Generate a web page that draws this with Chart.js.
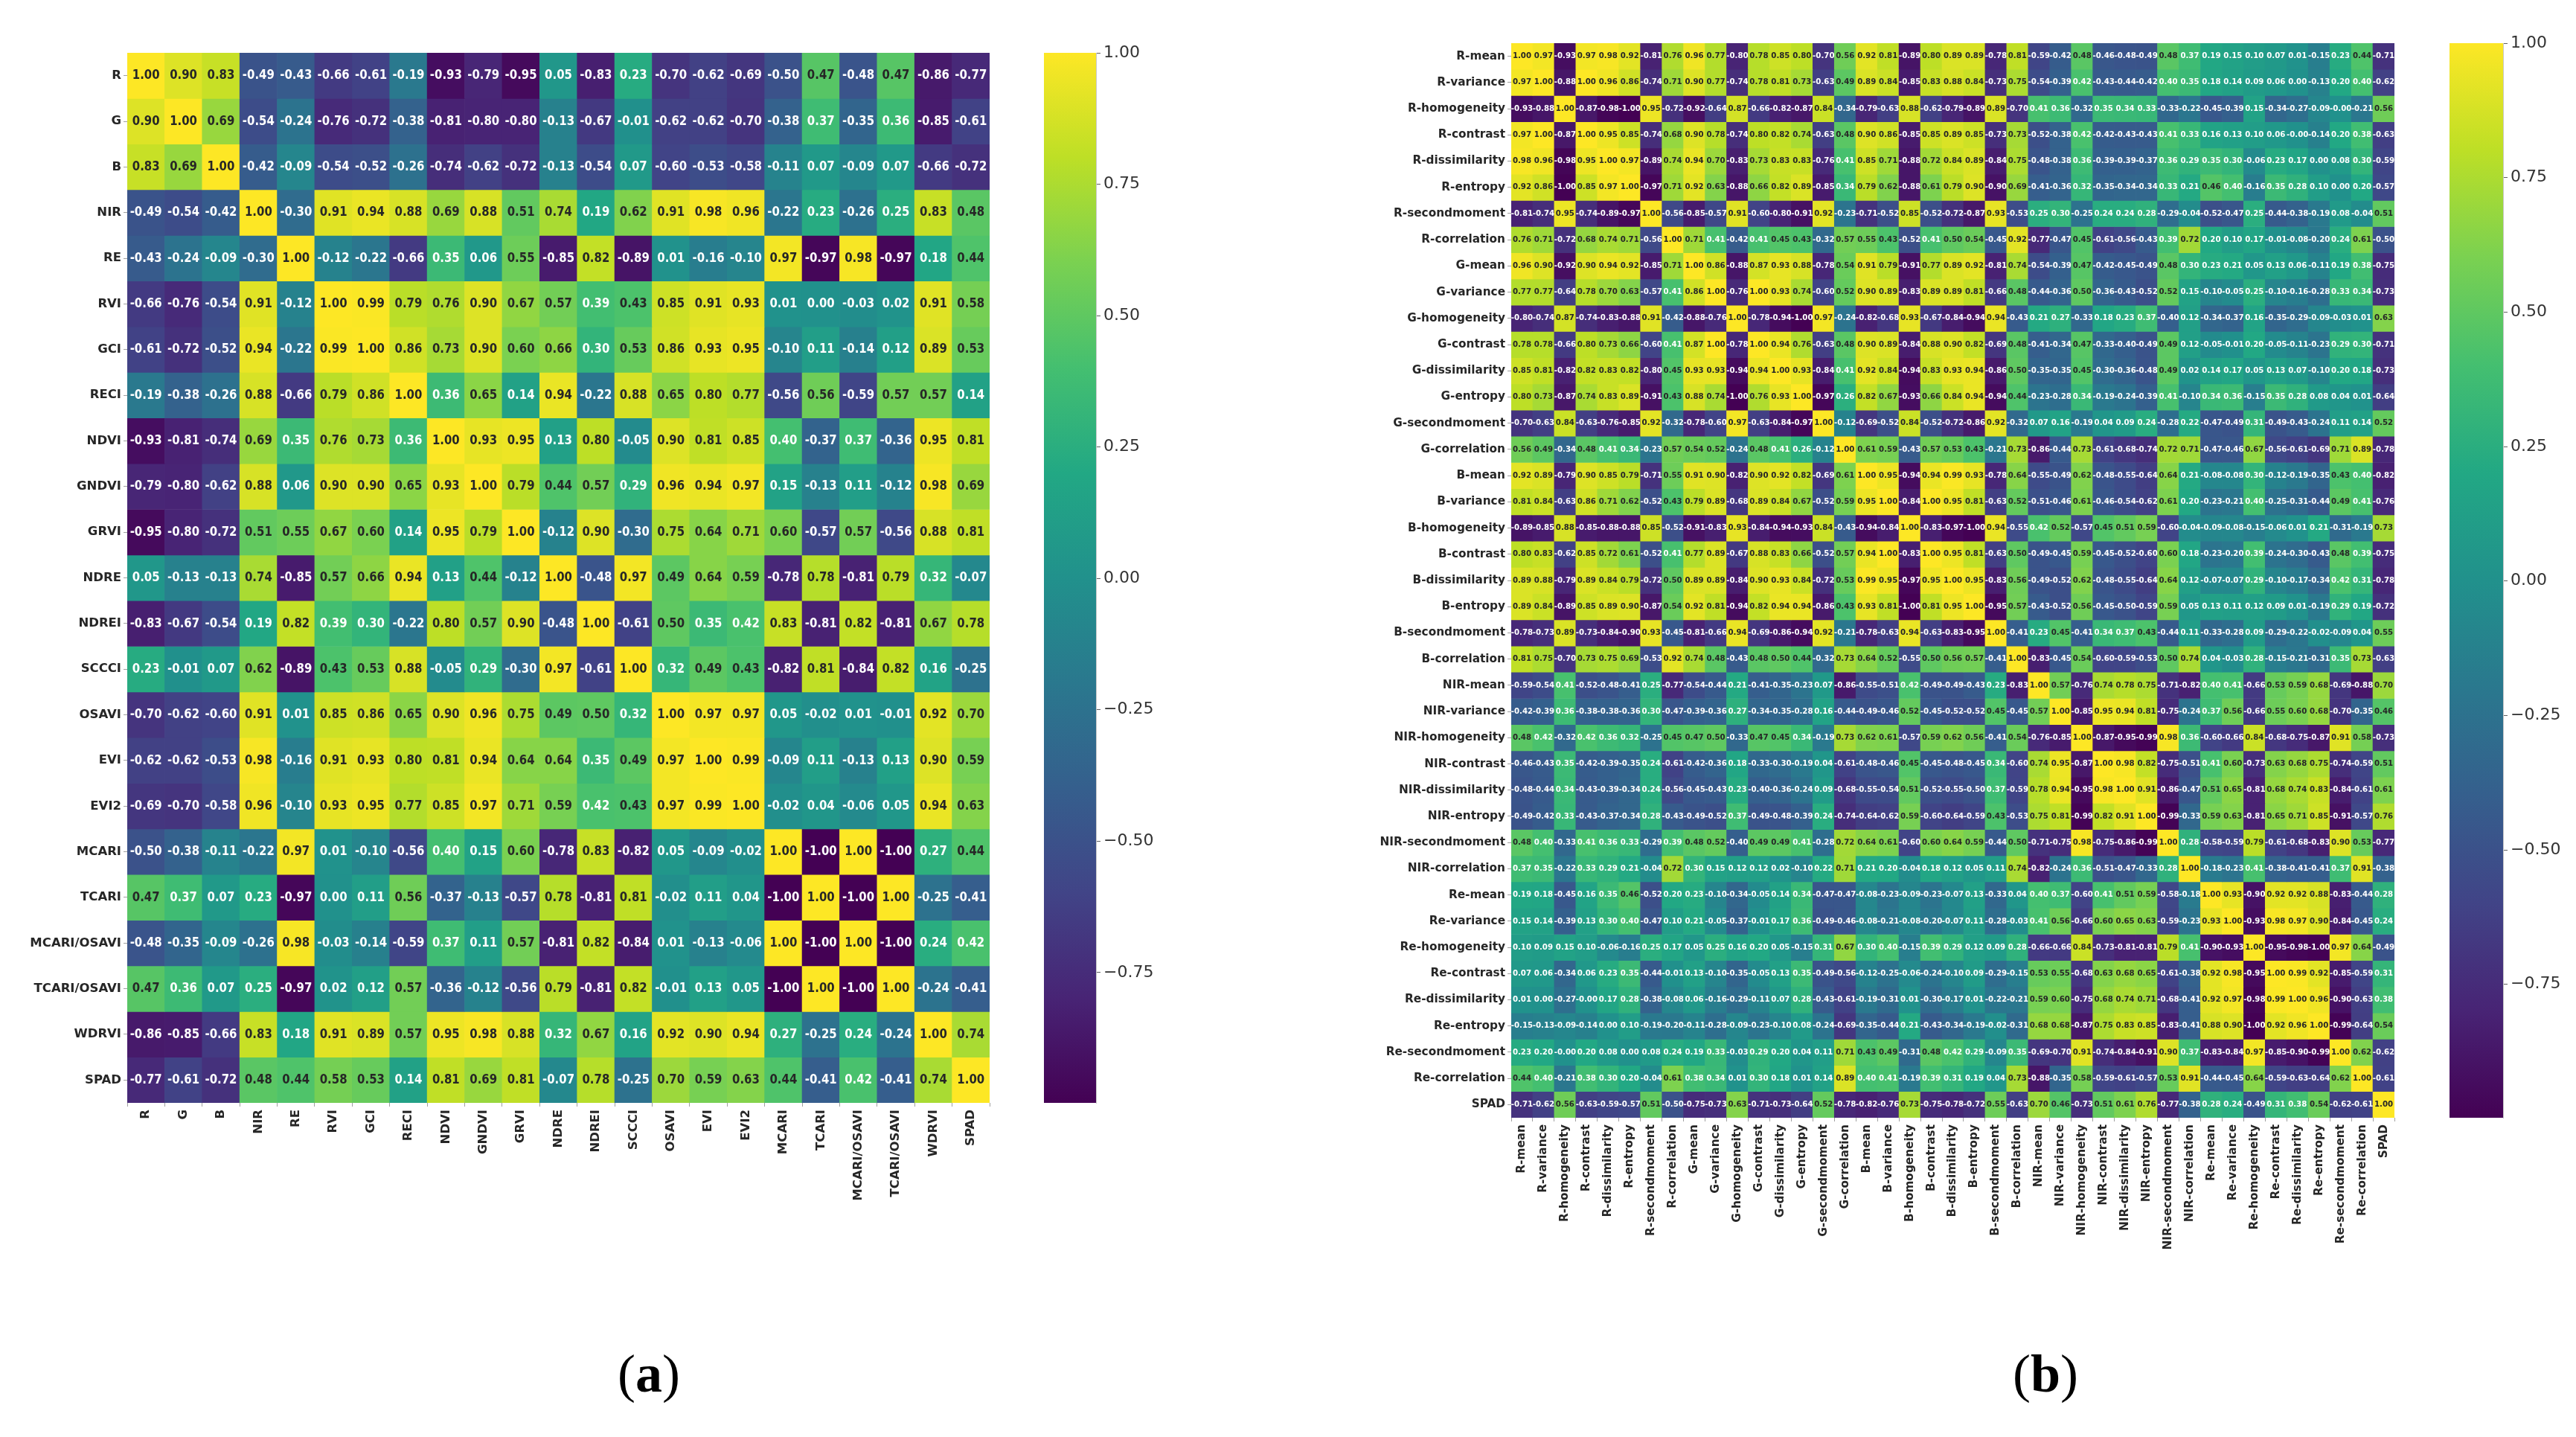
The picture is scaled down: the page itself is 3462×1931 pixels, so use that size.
<!DOCTYPE html>
<html>
<head>
<meta charset="utf-8">
<script src="https://cdn.jsdelivr.net/npm/chart.js@4"></script>
<style>
  html, body { margin: 0; padding: 0; background: #fff; width: 3462px; height: 1931px; overflow: hidden; }
  canvas { position: absolute; }
  .caption { position: absolute; top: 1805px; width: 200px; text-align: center; font: 72px "Liberation Serif", serif; color: #000; }
</style>
</head>
<body>
<canvas id="heatA"></canvas>
<canvas id="barA"></canvas>
<canvas id="heatB"></canvas>
<canvas id="barB"></canvas>
<div class="caption" style="left:772px">(<b>a</b>)</div>
<div class="caption" style="left:2649px">(<b>b</b>)</div>

<script>
const labelsA = ["R", "G", "B", "NIR", "RE", "RVI", "GCI", "RECI", "NDVI", "GNDVI", "GRVI", "NDRE", "NDREI", "SCCCI", "OSAVI", "EVI", "EVI2", "MCARI", "TCARI", "MCARI/OSAVI", "TCARI/OSAVI", "WDRVI", "SPAD"];

// the matrices are symmetric: each row starts at the diagonal
const corrA = [
  [1.00,0.90,0.83,-0.49,-0.43,-0.66,-0.61,-0.19,-0.93,-0.79,-0.95,0.05,-0.83,0.23,-0.70,-0.62,-0.69,-0.50,0.47,-0.48,0.47,-0.86,-0.77],
  [1.00,0.69,-0.54,-0.24,-0.76,-0.72,-0.38,-0.81,-0.80,-0.80,-0.13,-0.67,-0.01,-0.62,-0.62,-0.70,-0.38,0.37,-0.35,0.36,-0.85,-0.61],
  [1.00,-0.42,-0.09,-0.54,-0.52,-0.26,-0.74,-0.62,-0.72,-0.13,-0.54,0.07,-0.60,-0.53,-0.58,-0.11,0.07,-0.09,0.07,-0.66,-0.72],
  [1.00,-0.30,0.91,0.94,0.88,0.69,0.88,0.51,0.74,0.19,0.62,0.91,0.98,0.96,-0.22,0.23,-0.26,0.25,0.83,0.48],
  [1.00,-0.12,-0.22,-0.66,0.35,0.06,0.55,-0.85,0.82,-0.89,0.01,-0.16,-0.10,0.97,-0.97,0.98,-0.97,0.18,0.44],
  [1.00,0.99,0.79,0.76,0.90,0.67,0.57,0.39,0.43,0.85,0.91,0.93,0.01,0.00,-0.03,0.02,0.91,0.58],
  [1.00,0.86,0.73,0.90,0.60,0.66,0.30,0.53,0.86,0.93,0.95,-0.10,0.11,-0.14,0.12,0.89,0.53],
  [1.00,0.36,0.65,0.14,0.94,-0.22,0.88,0.65,0.80,0.77,-0.56,0.56,-0.59,0.57,0.57,0.14],
  [1.00,0.93,0.95,0.13,0.80,-0.05,0.90,0.81,0.85,0.40,-0.37,0.37,-0.36,0.95,0.81],
  [1.00,0.79,0.44,0.57,0.29,0.96,0.94,0.97,0.15,-0.13,0.11,-0.12,0.98,0.69],
  [1.00,-0.12,0.90,-0.30,0.75,0.64,0.71,0.60,-0.57,0.57,-0.56,0.88,0.81],
  [1.00,-0.48,0.97,0.49,0.64,0.59,-0.78,0.78,-0.81,0.79,0.32,-0.07],
  [1.00,-0.61,0.50,0.35,0.42,0.83,-0.81,0.82,-0.81,0.67,0.78],
  [1.00,0.32,0.49,0.43,-0.82,0.81,-0.84,0.82,0.16,-0.25],
  [1.00,0.97,0.97,0.05,-0.02,0.01,-0.01,0.92,0.70],
  [1.00,0.99,-0.09,0.11,-0.13,0.13,0.90,0.59],
  [1.00,-0.02,0.04,-0.06,0.05,0.94,0.63],
  [1.00,-1.00,1.00,-1.00,0.27,0.44],
  [1.00,-1.00,1.00,-0.25,-0.41],
  [1.00,-1.00,0.24,0.42],
  [1.00,-0.24,-0.41],
  [1.00,0.74],
  [1.00]
];

const labelsB = [
  "R-mean", "R-variance", "R-homogeneity", "R-contrast", "R-dissimilarity", "R-entropy", "R-secondmoment", "R-correlation",
  "G-mean", "G-variance", "G-homogeneity", "G-contrast", "G-dissimilarity", "G-entropy", "G-secondmoment", "G-correlation",
  "B-mean", "B-variance", "B-homogeneity", "B-contrast", "B-dissimilarity", "B-entropy", "B-secondmoment", "B-correlation",
  "NIR-mean", "NIR-variance", "NIR-homogeneity", "NIR-contrast", "NIR-dissimilarity", "NIR-entropy", "NIR-secondmoment", "NIR-correlation",
  "Re-mean", "Re-variance", "Re-homogeneity", "Re-contrast", "Re-dissimilarity", "Re-entropy", "Re-secondmoment", "Re-correlation",
  "SPAD"
];

// -0.001 prints as -0.00 like in the picture
const corrB = [
  [1.00,0.97,-0.93,0.97,0.98,0.92,-0.81,0.76,0.96,0.77,-0.80,0.78,0.85,0.80,-0.70,0.56,0.92,0.81,-0.89,0.80,0.89,0.89,-0.78,0.81,-0.59,-0.42,0.48,-0.46,-0.48,-0.49,0.48,0.37,0.19,0.15,0.10,0.07,0.01,-0.15,0.23,0.44,-0.71],
  [1.00,-0.88,1.00,0.96,0.86,-0.74,0.71,0.90,0.77,-0.74,0.78,0.81,0.73,-0.63,0.49,0.89,0.84,-0.85,0.83,0.88,0.84,-0.73,0.75,-0.54,-0.39,0.42,-0.43,-0.44,-0.42,0.40,0.35,0.18,0.14,0.09,0.06,0.00,-0.13,0.20,0.40,-0.62],
  [1.00,-0.87,-0.98,-1.00,0.95,-0.72,-0.92,-0.64,0.87,-0.66,-0.82,-0.87,0.84,-0.34,-0.79,-0.63,0.88,-0.62,-0.79,-0.89,0.89,-0.70,0.41,0.36,-0.32,0.35,0.34,0.33,-0.33,-0.22,-0.45,-0.39,0.15,-0.34,-0.27,-0.09,-0.001,-0.21,0.56],
  [1.00,0.95,0.85,-0.74,0.68,0.90,0.78,-0.74,0.80,0.82,0.74,-0.63,0.48,0.90,0.86,-0.85,0.85,0.89,0.85,-0.73,0.73,-0.52,-0.38,0.42,-0.42,-0.43,-0.43,0.41,0.33,0.16,0.13,0.10,0.06,-0.001,-0.14,0.20,0.38,-0.63],
  [1.00,0.97,-0.89,0.74,0.94,0.70,-0.83,0.73,0.83,0.83,-0.76,0.41,0.85,0.71,-0.88,0.72,0.84,0.89,-0.84,0.75,-0.48,-0.38,0.36,-0.39,-0.39,-0.37,0.36,0.29,0.35,0.30,-0.06,0.23,0.17,0.00,0.08,0.30,-0.59],
  [1.00,-0.97,0.71,0.92,0.63,-0.88,0.66,0.82,0.89,-0.85,0.34,0.79,0.62,-0.88,0.61,0.79,0.90,-0.90,0.69,-0.41,-0.36,0.32,-0.35,-0.34,-0.34,0.33,0.21,0.46,0.40,-0.16,0.35,0.28,0.10,0.00,0.20,-0.57],
  [1.00,-0.56,-0.85,-0.57,0.91,-0.60,-0.80,-0.91,0.92,-0.23,-0.71,-0.52,0.85,-0.52,-0.72,-0.87,0.93,-0.53,0.25,0.30,-0.25,0.24,0.24,0.28,-0.29,-0.04,-0.52,-0.47,0.25,-0.44,-0.38,-0.19,0.08,-0.04,0.51],
  [1.00,0.71,0.41,-0.42,0.41,0.45,0.43,-0.32,0.57,0.55,0.43,-0.52,0.41,0.50,0.54,-0.45,0.92,-0.77,-0.47,0.45,-0.61,-0.56,-0.43,0.39,0.72,0.20,0.10,0.17,-0.01,-0.08,-0.20,0.24,0.61,-0.50],
  [1.00,0.86,-0.88,0.87,0.93,0.88,-0.78,0.54,0.91,0.79,-0.91,0.77,0.89,0.92,-0.81,0.74,-0.54,-0.39,0.47,-0.42,-0.45,-0.49,0.48,0.30,0.23,0.21,0.05,0.13,0.06,-0.11,0.19,0.38,-0.75],
  [1.00,-0.76,1.00,0.93,0.74,-0.60,0.52,0.90,0.89,-0.83,0.89,0.89,0.81,-0.66,0.48,-0.44,-0.36,0.50,-0.36,-0.43,-0.52,0.52,0.15,-0.10,-0.05,0.25,-0.10,-0.16,-0.28,0.33,0.34,-0.73],
  [1.00,-0.78,-0.94,-1.00,0.97,-0.24,-0.82,-0.68,0.93,-0.67,-0.84,-0.94,0.94,-0.43,0.21,0.27,-0.33,0.18,0.23,0.37,-0.40,0.12,-0.34,-0.37,0.16,-0.35,-0.29,-0.09,-0.03,0.01,0.63],
  [1.00,0.94,0.76,-0.63,0.48,0.90,0.89,-0.84,0.88,0.90,0.82,-0.69,0.48,-0.41,-0.34,0.47,-0.33,-0.40,-0.49,0.49,0.12,-0.05,-0.01,0.20,-0.05,-0.11,-0.23,0.29,0.30,-0.71],
  [1.00,0.93,-0.84,0.41,0.92,0.84,-0.94,0.83,0.93,0.94,-0.86,0.50,-0.35,-0.35,0.45,-0.30,-0.36,-0.48,0.49,0.02,0.14,0.17,0.05,0.13,0.07,-0.10,0.20,0.18,-0.73],
  [1.00,-0.97,0.26,0.82,0.67,-0.93,0.66,0.84,0.94,-0.94,0.44,-0.23,-0.28,0.34,-0.19,-0.24,-0.39,0.41,-0.10,0.34,0.36,-0.15,0.35,0.28,0.08,0.04,0.01,-0.64],
  [1.00,-0.12,-0.69,-0.52,0.84,-0.52,-0.72,-0.86,0.92,-0.32,0.07,0.16,-0.19,0.04,0.09,0.24,-0.28,0.22,-0.47,-0.49,0.31,-0.49,-0.43,-0.24,0.11,0.14,0.52],
  [1.00,0.61,0.59,-0.43,0.57,0.53,0.43,-0.21,0.73,-0.86,-0.44,0.73,-0.61,-0.68,-0.74,0.72,0.71,-0.47,-0.46,0.67,-0.56,-0.61,-0.69,0.71,0.89,-0.78],
  [1.00,0.95,-0.94,0.94,0.99,0.93,-0.78,0.64,-0.55,-0.49,0.62,-0.48,-0.55,-0.64,0.64,0.21,-0.08,-0.08,0.30,-0.12,-0.19,-0.35,0.43,0.40,-0.82],
  [1.00,-0.84,1.00,0.95,0.81,-0.63,0.52,-0.51,-0.46,0.61,-0.46,-0.54,-0.62,0.61,0.20,-0.23,-0.21,0.40,-0.25,-0.31,-0.44,0.49,0.41,-0.76],
  [1.00,-0.83,-0.97,-1.00,0.94,-0.55,0.42,0.52,-0.57,0.45,0.51,0.59,-0.60,-0.04,-0.09,-0.08,-0.15,-0.06,0.01,0.21,-0.31,-0.19,0.73],
  [1.00,0.95,0.81,-0.63,0.50,-0.49,-0.45,0.59,-0.45,-0.52,-0.60,0.60,0.18,-0.23,-0.20,0.39,-0.24,-0.30,-0.43,0.48,0.39,-0.75],
  [1.00,0.95,-0.83,0.56,-0.49,-0.52,0.62,-0.48,-0.55,-0.64,0.64,0.12,-0.07,-0.07,0.29,-0.10,-0.17,-0.34,0.42,0.31,-0.78],
  [1.00,-0.95,0.57,-0.43,-0.52,0.56,-0.45,-0.50,-0.59,0.59,0.05,0.13,0.11,0.12,0.09,0.01,-0.19,0.29,0.19,-0.72],
  [1.00,-0.41,0.23,0.45,-0.41,0.34,0.37,0.43,-0.44,0.11,-0.33,-0.28,0.09,-0.29,-0.22,-0.02,-0.09,0.04,0.55],
  [1.00,-0.83,-0.45,0.54,-0.60,-0.59,-0.53,0.50,0.74,0.04,-0.03,0.28,-0.15,-0.21,-0.31,0.35,0.73,-0.63],
  [1.00,0.57,-0.76,0.74,0.78,0.75,-0.71,-0.82,0.40,0.41,-0.66,0.53,0.59,0.68,-0.69,-0.88,0.70],
  [1.00,-0.85,0.95,0.94,0.81,-0.75,-0.24,0.37,0.56,-0.66,0.55,0.60,0.68,-0.70,-0.35,0.46],
  [1.00,-0.87,-0.95,-0.99,0.98,0.36,-0.60,-0.66,0.84,-0.68,-0.75,-0.87,0.91,0.58,-0.73],
  [1.00,0.98,0.82,-0.75,-0.51,0.41,0.60,-0.73,0.63,0.68,0.75,-0.74,-0.59,0.51],
  [1.00,0.91,-0.86,-0.47,0.51,0.65,-0.81,0.68,0.74,0.83,-0.84,-0.61,0.61],
  [1.00,-0.99,-0.33,0.59,0.63,-0.81,0.65,0.71,0.85,-0.91,-0.57,0.76],
  [1.00,0.28,-0.58,-0.59,0.79,-0.61,-0.68,-0.83,0.90,0.53,-0.77],
  [1.00,-0.18,-0.23,0.41,-0.38,-0.41,-0.41,0.37,0.91,-0.38],
  [1.00,0.93,-0.90,0.92,0.92,0.88,-0.83,-0.44,0.28],
  [1.00,-0.93,0.98,0.97,0.90,-0.84,-0.45,0.24],
  [1.00,-0.95,-0.98,-1.00,0.97,0.64,-0.49],
  [1.00,0.99,0.92,-0.85,-0.59,0.31],
  [1.00,0.96,-0.90,-0.63,0.38],
  [1.00,-0.99,-0.64,0.54],
  [1.00,0.62,-0.62],
  [1.00,-0.61],
  [1.00]
];

const colorbarTicks = [1, 0.75, 0.5, 0.25, 0, -0.25, -0.5, -0.75];
const colorbarRange = [-0.998, 1];

const viridis = ["#440154", "#482475", "#414487", "#355f8d", "#2a788e", "#21918c", "#22a884", "#44bf70", "#7ad151", "#bddf26", "#fde725"];

function couleur(v) {
    const t = Math.max(0, Math.min(0.99999, (v + 1) / 2)) * (viridis.length - 1);
    const i = Math.floor(t);
    const a = parseInt(viridis[i].slice(1), 16);
    const b = parseInt(viridis[i + 1].slice(1), 16);
    const f = t - i;
    const mix = (s) => Math.round(((a >> s) & 255) * (1 - f) + ((b >> s) & 255) * f);
    return `rgb(${mix(16)},${mix(8)},${mix(0)})`;
}

// full matrix from the rows that start at the diagonal
function matrice(rows) {
    const n = rows.length;
    const m = [];
    for (let i = 0; i < n; i++) m.push(new Array(n));
    for (let i = 0; i < n; i++) {
        for (let k = 0; k < rows[i].length; k++) {
            m[i][i + k] = rows[i][k];
            m[i + k][i] = rows[i][k];
        }
    }
    return m;
}

// numbers written in the middle of each cell
const cellText = {
    id: "cellText",
    afterDatasetsDraw(chart, args, opts) {
        const { ctx, scales } = chart;
        ctx.save();
        ctx.font = `bold ${opts.size}px "DejaVu Sans"`;
        ctx.textAlign = "center";
        ctx.textBaseline = "middle";
        opts.values.forEach((row, i) => {
            row.forEach((v, j) => {
                ctx.fillStyle = v > 0.425 ? "#262626" : "#ffffff";
                ctx.save();
                ctx.translate(scales.x.getPixelForValue(j), scales.y.getPixelForValue(i + 0.5));
                ctx.scale(opts.squeeze, 1);
                ctx.fillText(v.toFixed(2), 0, 0);
                ctx.restore();
            });
        });
        ctx.restore();
    }
};

function heatmap(id, labels, rows, box) {
    const values = matrice(rows);
    const n = labels.length;
    const canvas = document.getElementById(id);
    canvas.width = box.labelW + box.width + 2;
    canvas.height = 2 + box.height + box.labelH;
    canvas.style.left = (box.left - box.labelW) + "px";
    canvas.style.top = (box.top - 2) + "px";

    const datasets = values.map((row, i) => ({
        data: row.map(() => [i, i + 1]),
        backgroundColor: row.map(couleur),
        borderWidth: 0,
        barPercentage: 1,
        categoryPercentage: 1,
        grouped: false
    }));

    new Chart(canvas, {
        type: "bar",
        data: { labels: labels, datasets: datasets },
        plugins: [cellText],
        options: {
            responsive: false,
            animation: false,
            devicePixelRatio: 1,
            layout: { padding: { top: 2, right: 2 } },
            plugins: {
                legend: { display: false },
                tooltip: { enabled: false },
                cellText: { values: values, size: box.textSize, squeeze: box.squeeze }
            },
            scales: {
                x: {
                    border: { display: false },
                    grid: { drawOnChartArea: false, tickLength: 5, color: "#a0a0a0" },
                    ticks: {
                        autoSkip: false, minRotation: 90, maxRotation: 90, padding: 4,
                        color: "#262626",
                        font: { family: "DejaVu Sans", weight: "bold", size: box.labelSize }
                    },
                    afterFit(s) { s.height = box.labelH; s.paddingLeft = 0; s.paddingRight = 0; }
                },
                y: {
                    min: 0,
                    max: n,
                    reverse: true,
                    border: { display: false },
                    grid: { drawOnChartArea: false, tickLength: 5, color: "#a0a0a0" },
                    ticks: {
                        autoSkip: false, padding: 3,
                        color: "#262626",
                        font: { family: "DejaVu Sans", weight: "bold", size: box.labelSize },
                        callback: (v) => labels[Math.floor(v)]
                    },
                    afterBuildTicks(s) { s.ticks = labels.map((l, i) => ({ value: i + 0.5 })); },
                    afterFit(s) { s.width = box.labelW; s.paddingTop = 0; s.paddingBottom = 0; }
                }
            }
        }
    });
}

function colorbar(id, box) {
    const canvas = document.getElementById(id);
    const rightW = 90;
    canvas.width = box.width + rightW;
    canvas.height = box.height + 28;
    canvas.style.left = box.left + "px";
    canvas.style.top = (box.top - 14) + "px";

    new Chart(canvas, {
        type: "bar",
        data: {
            labels: [""],
            datasets: [{
                data: [colorbarRange],
                barPercentage: 1,
                categoryPercentage: 1,
                borderWidth: 0,
                backgroundColor(c) {
                    const a = c.chart.chartArea;
                    if (!a) return viridis[0];
                    const g = c.chart.ctx.createLinearGradient(0, a.bottom, 0, a.top);
                    viridis.forEach((col, i) => g.addColorStop(i / (viridis.length - 1), col));
                    return g;
                }
            }]
        },
        options: {
            responsive: false,
            animation: false,
            devicePixelRatio: 1,
            layout: { padding: { top: 14, bottom: 14 } },
            plugins: { legend: { display: false }, tooltip: { enabled: false } },
            scales: {
                x: { display: false },
                y: {
                    position: "right",
                    min: colorbarRange[0],
                    max: colorbarRange[1],
                    border: { display: true, color: "#c8c8c8", width: 1 },
                    grid: { drawOnChartArea: false, tickLength: 6, color: "#606060" },
                    ticks: {
                        padding: 4,
                        color: "#333333",
                        font: { family: "DejaVu Sans", size: 22 },
                        callback: (v) => v.toFixed(2).replace("-", "\u2212")
                    },
                    afterBuildTicks(s) { s.ticks = colorbarTicks.map((v) => ({ value: v })); },
                    afterFit(s) { s.width = rightW; s.paddingTop = 0; s.paddingBottom = 0; }
                }
            }
        }
    });
}

heatmap("heatA", labelsA, corrA, { left: 171, top: 71, width: 1159, height: 1411, labelW: 171, labelH: 130, labelSize: 16.5, textSize: 18, squeeze: 0.83 });
heatmap("heatB", labelsB, corrB, { left: 2031, top: 58, width: 1187, height: 1444, labelW: 190, labelH: 190, labelSize: 15.3, textSize: 10.2, squeeze: 1 });
colorbar("barA", { left: 1403, top: 71, width: 70, height: 1411 });
colorbar("barB", { left: 3292, top: 58, width: 72, height: 1444 });
</script>
</body>
</html>
